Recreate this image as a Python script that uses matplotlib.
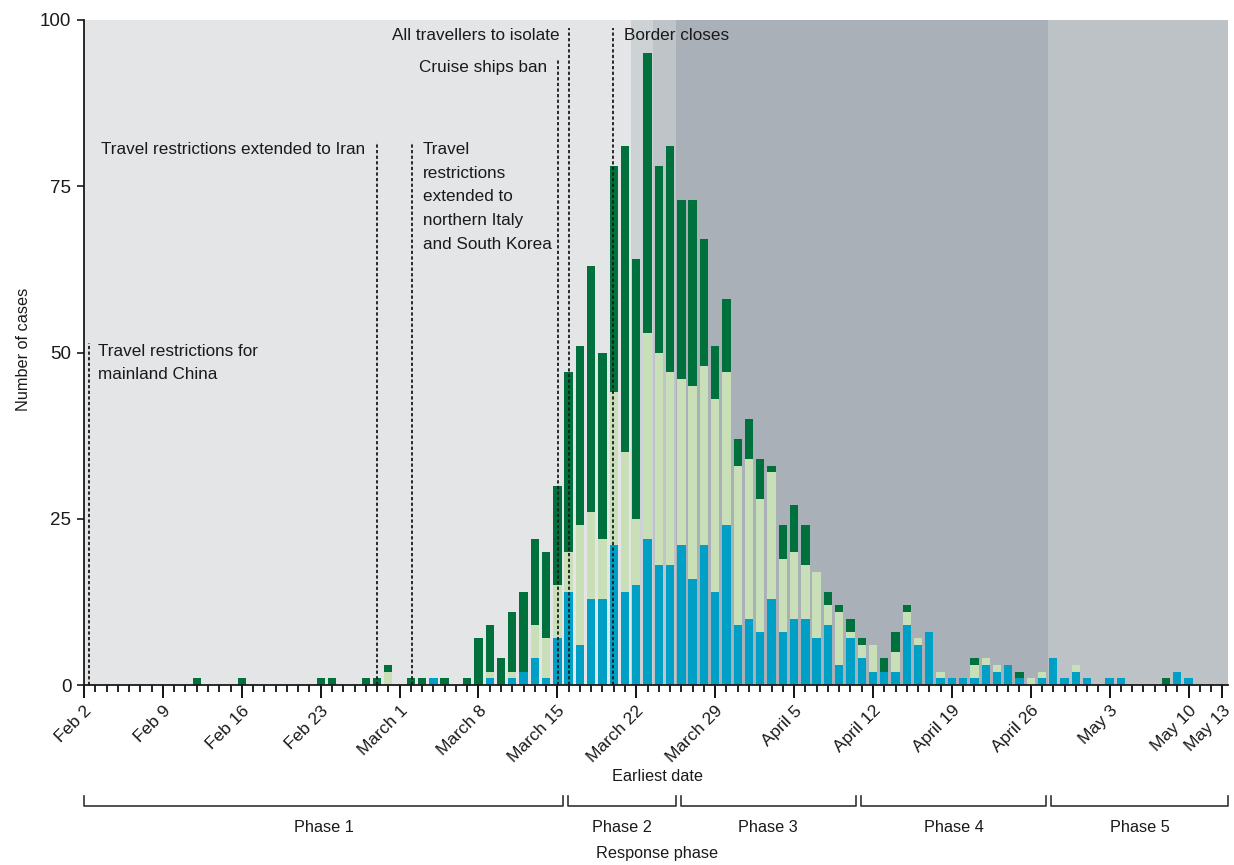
import numpy as np
import pandas as pd
import matplotlib
matplotlib.use("Agg")
import matplotlib.pyplot as plt
from matplotlib.transforms import blended_transform_factory

plt.rcParams['font.family'] = ['Liberation Sans', 'DejaVu Sans']

# Daily case counts, Feb 2 – May 13 2020 (one value per day)
first_day = '2020-02-02'
last_day = '2020-05-13'

blue_cases = [
    0, 0, 0, 0, 0, 0, 0, 0, 0, 0, 0, 0, 0, 0, 0, 0, 0, 0, 0, 0,      # Feb 2 - Feb 21
    0, 0, 0, 0, 0, 0, 0, 0, 0, 0, 0, 1, 0, 0, 0, 0, 1, 0, 1, 2,      # Feb 22 - Mar 12
    4, 1, 7, 14, 6, 13, 13, 21, 14, 15, 22, 18, 18, 21, 16, 21, 14, 24, 9, 10,  # Mar 13 - Apr 1
    8, 13, 8, 10, 10, 7, 9, 3, 7, 4, 2, 2, 2, 9, 6, 8, 1, 1, 1, 1,   # Apr 2 - Apr 21
    3, 2, 3, 1, 0, 1, 4, 1, 2, 1, 0, 1, 1, 0, 0, 0, 0, 2, 1, 0,      # Apr 22 - May 11
    0, 0,                                                            # May 12 - May 13
]
pale_cases = [
    0, 0, 0, 0, 0, 0, 0, 0, 0, 0, 0, 0, 0, 0, 0, 0, 0, 0, 0, 0,
    0, 0, 0, 0, 0, 0, 0, 2, 0, 0, 0, 0, 0, 0, 0, 0, 1, 0, 1, 0,
    5, 6, 8, 6, 18, 13, 9, 23, 21, 10, 31, 32, 29, 25, 29, 27, 29, 23, 24, 24,
    20, 19, 11, 10, 8, 10, 3, 8, 1, 2, 4, 0, 3, 2, 1, 0, 1, 0, 0, 2,
    1, 1, 0, 0, 1, 1, 0, 0, 1, 0, 0, 0, 0, 0, 0, 0, 0, 0, 0, 0,
    0, 0,
]
green_cases = [
    0, 0, 0, 0, 0, 0, 0, 0, 0, 0, 1, 0, 0, 0, 1, 0, 0, 0, 0, 0,
    0, 1, 1, 0, 0, 1, 1, 1, 0, 1, 1, 0, 1, 0, 1, 7, 7, 4, 9, 12,
    13, 13, 15, 27, 27, 37, 28, 34, 46, 39, 42, 28, 34, 27, 28, 19, 8, 11, 4, 6,
    6, 1, 5, 7, 6, 0, 2, 1, 2, 1, 0, 2, 3, 1, 0, 0, 0, 0, 0, 1,
    0, 0, 0, 1, 0, 0, 0, 0, 0, 0, 0, 0, 0, 0, 0, 0, 1, 0, 0, 0,
    0, 0,
]

tick_dates = ['2020-02-02', '2020-02-09', '2020-02-16', '2020-02-23', '2020-03-01',
              '2020-03-08', '2020-03-15', '2020-03-22', '2020-03-29', '2020-04-05',
              '2020-04-12', '2020-04-19', '2020-04-26', '2020-05-03', '2020-05-10',
              '2020-05-13']
tick_labels = ['Feb 2', 'Feb 9', 'Feb 16', 'Feb 23', 'March 1', 'March 8', 'March 15',
               'March 22', 'March 29', 'April 5', 'April 12', 'April 19', 'April 26',
               'May 3', 'May 10', 'May 13']

# Policy events: date/time of the dashed marker, top of the marker (cases)
event_times = ['2020-02-02 10:45', '2020-02-27 23:15', '2020-03-02 01:40',
               '2020-03-15 01:10', '2020-03-16 01:40', '2020-03-19 23:15']
event_tops = [51.4, 81.7, 81.7, 94.0, 98.8, 98.8]
event_texts = ['Travel restrictions for\nmainland China',
               'Travel restrictions extended to Iran',
               'Travel\nrestrictions\nextended to\nnorthern Italy\nand South Korea',
               'Cruise ships ban',
               'All travellers to isolate',
               'Border closes']
event_text_x = ['2020-02-03 05:50', '2020-02-26 22:20', '2020-03-03 02:00',
                '2020-03-14 02:00', '2020-03-15 05:45', '2020-03-20 21:40']
event_text_y = [48.4, 80.6, 73.4, 92.8, 97.7, 97.7]
event_text_ha = ['left', 'right', 'left', 'right', 'right', 'left']

# Background shading (alert level periods)
shade_edges = ['2020-02-02 00:00', '2020-03-21 12:00', '2020-03-23 10:50',
               '2020-03-25 12:00', '2020-04-27 13:00', '2020-05-13 12:00']
shade_colors = ['#e4e5e7', '#cdd2d5', '#bec4c8', '#a9b0b8', '#bcc2c6']

# Response phases shown as brackets under the axis
phase_names = ['Phase 1', 'Phase 2', 'Phase 3', 'Phase 4', 'Phase 5']
phase_edges = ['2020-02-02 00:00', '2020-03-15 17:15', '2020-03-25 17:15',
               '2020-04-10 17:15', '2020-04-27 14:30', '2020-05-13 12:00']

BLUE = '#00a0c6'
PALE = '#c8dfb8'
GREEN = '#00703c'

days = pd.date_range(first_day, last_day, freq='D')
blue_arr = np.array(blue_cases, dtype=float)
pale_arr = np.array(pale_cases, dtype=float)
green_arr = np.array(green_cases, dtype=float)

fig = plt.figure(figsize=(12.34, 8.65), dpi=100)
ax = fig.add_axes([84 / 1234, 1 - 685 / 865, 1144 / 1234, 665 / 865])

x0 = pd.Timestamp(shade_edges[0])
x1 = pd.Timestamp(shade_edges[-1])
for i, c in enumerate(shade_colors):
    ax.axvspan(pd.Timestamp(shade_edges[i]), pd.Timestamp(shade_edges[i + 1]),
               color=c, lw=0, zorder=0)

bar_w = 0.74
m = blue_arr > 0
ax.bar(days[m], blue_arr[m], width=bar_w, color=BLUE, lw=0, zorder=2)
m = pale_arr > 0
ax.bar(days[m], pale_arr[m], bottom=blue_arr[m], width=bar_w, color=PALE, lw=0, zorder=2)
m = green_arr > 0
ax.bar(days[m], green_arr[m], bottom=(blue_arr + pale_arr)[m], width=bar_w,
       color=GREEN, lw=0, zorder=2)

for t, top in zip(event_times, event_tops):
    ts = pd.Timestamp(t)
    ax.plot([ts, ts], [0, top], color='#1a1a1a', lw=1.3, ls=(0, (1.8, 1.3)), zorder=3)

for tx, ty, txt, ha in zip(event_text_x, event_text_y, event_texts, event_text_ha):
    ax.text(pd.Timestamp(tx), ty, txt, ha=ha, va='center', fontsize=12.3,
            color='#1a1a1a', linespacing=1.72, zorder=4)

ax.set_xlim(x0, x1)
ax.set_ylim(0, 100)
ax.set_yticks([0, 25, 50, 75, 100])
ax.tick_params(axis='y', labelsize=13.5, length=5, width=1.2, pad=4, colors='#1a1a1a')

ax.set_xticks(days, minor=True)
ax.set_xticks([pd.Timestamp(d) for d in tick_dates])
ax.set_xticklabels(tick_labels, rotation=45, ha='right', rotation_mode='anchor',
                   fontsize=12.5, color='#1a1a1a')
ax.tick_params(axis='x', which='major', length=9, width=1.3, pad=4)
ax.tick_params(axis='x', which='minor', length=5, width=1.2)

for s in ['top', 'right']:
    ax.spines[s].set_visible(False)
for s in ['left', 'bottom']:
    ax.spines[s].set_linewidth(1.3)
    ax.spines[s].set_color('#1a1a1a')

ax.text(-0.053, 0.504, 'Number of cases', transform=ax.transAxes, rotation=90,
        ha='center', va='center', fontsize=11.7, color='#1a1a1a')
ax.text(0.501, -0.137, 'Earliest date', transform=ax.transAxes,
        ha='center', va='center', fontsize=11.7, color='#1a1a1a')
ax.text(0.501, -0.253, 'Response phase', transform=ax.transAxes,
        ha='center', va='center', fontsize=11.7, color='#1a1a1a')

trans = blended_transform_factory(ax.transData, ax.transAxes)
gap = pd.Timedelta(hours=5)
y_line = (685 - 806) / 665
y_end = (685 - 796) / 665
y_txt = (685 - 828) / 665
for i, name in enumerate(phase_names):
    a = pd.Timestamp(phase_edges[i]) + (gap if i > 0 else pd.Timedelta(0))
    b = pd.Timestamp(phase_edges[i + 1]) - (gap if i < len(phase_names) - 1 else pd.Timedelta(0))
    ax.plot([a, a, b, b], [y_end, y_line, y_line, y_end], transform=trans,
            color='#333333', lw=1.2, clip_on=False)
    ax.text(a + (b - a) / 2, y_txt, name, transform=trans, ha='center', va='center',
            fontsize=11.7, color='#1a1a1a')

fig.savefig('out.png', dpi=100)
